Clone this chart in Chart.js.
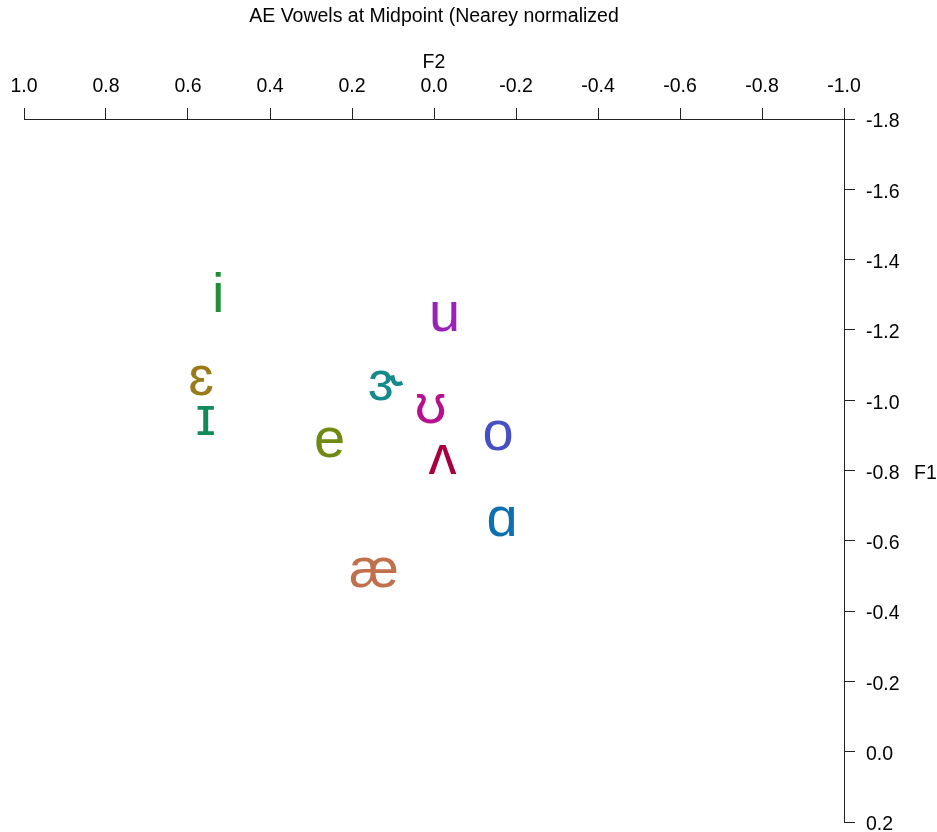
<!DOCTYPE html>
<html>
<head>
<meta charset="utf-8">
<title>AE Vowels at Midpoint</title>
<script src="https://cdn.jsdelivr.net/npm/chart.js@4.4.1/dist/chart.umd.min.js"></script>
<style>
  html, body { margin: 0; padding: 0; background: #fff; }
  #wrap { width: 937px; height: 832px; }
</style>
</head>
<body>
<div id="wrap"><canvas id="chart" width="937" height="832"></canvas></div>
<script>
// Vowel symbols and their Nearey-normalized formant means at midpoint
const vowels = ['i', 'ɛ', 'ɪ', 'e', 'ɝ', 'ʊ', 'ʌ', 'u', 'o', 'ɑ', 'æ'];
const f2Values = [0.534, 0.570, 0.559, 0.260, 0.118, 0.013, -0.021, -0.018, -0.151, -0.160, 0.150];
const f1Values = [-1.308, -1.055, -0.942, -0.880, -1.043, -0.974, -0.831, -1.238, -0.900, -0.655, -0.510];
const vowelColors = ['#1f8f35', '#9b7a1a', '#128a5a', '#6e8a12', '#158a8a', '#b5108e',
                     '#a8003e', '#9a22bb', '#4650c4', '#0f70b0', '#c0714c'];

// Axis extents and tick spacing
const f2Range = [-1.0, 1.0];
const f1Range = [-1.8, 0.2];
const tickStep = 0.2;

const chartTitle = 'AE Vowels at Midpoint (Nearey normalized';
const xTitle = 'F2';
const yTitle = 'F1';

const FONT = '"Liberation Sans", Arial, "DejaVu Sans", sans-serif';
const TEXT_SIZE = 19.5;
const GLYPH_SIZE = 56;

const fmt = v => (Math.abs(v) < 1e-9 ? 0 : v).toFixed(1);

// Draws each vowel symbol centred (by its ink box) on its data point
const vowelLabels = {
  id: 'vowelLabels',
  afterDatasetsDraw(chart) {
    const ctx = chart.ctx;
    const meta = chart.getDatasetMeta(0);
    ctx.save();
    ctx.font = GLYPH_SIZE + 'px ' + FONT;
    ctx.textAlign = 'left';
    ctx.textBaseline = 'alphabetic';
    meta.data.forEach((pt, i) => {
      const m = ctx.measureText(vowels[i]);
      const w = m.actualBoundingBoxRight - m.actualBoundingBoxLeft;
      const h = m.actualBoundingBoxAscent + m.actualBoundingBoxDescent;
      const dx = pt.x - m.actualBoundingBoxRight + w / 2;
      const dy = pt.y + m.actualBoundingBoxAscent - h / 2;
      ctx.fillStyle = vowelColors[i];
      ctx.fillText(vowels[i], dx, dy);
    });
    ctx.restore();
  }
};

// Plot title and the two axis titles
const titles = {
  id: 'titles',
  afterDraw(chart) {
    const ctx = chart.ctx;
    const area = chart.chartArea;
    const yScale = chart.scales.y;
    const midX = (area.left + area.right) / 2;
    ctx.save();
    ctx.fillStyle = '#000';
    ctx.font = TEXT_SIZE + 'px ' + FONT;
    ctx.textBaseline = 'alphabetic';
    ctx.textAlign = 'center';
    ctx.fillText(chartTitle, midX, 22);
    ctx.fillText(xTitle, midX, 68);
    ctx.textAlign = 'left';
    ctx.textBaseline = 'middle';
    const midY = yScale.getPixelForValue((f1Range[0] + f1Range[1]) / 2) + 3;
    ctx.fillText(yTitle, 914, midY);
    ctx.restore();
  }
};

const points = vowels.map((v, i) => ({ x: f2Values[i], y: f1Values[i] }));

new Chart(document.getElementById('chart'), {
  type: 'scatter',
  data: {
    datasets: [{
      label: 'vowels',
      data: points,
      pointRadius: 0,
      pointHoverRadius: 0
    }]
  },
  options: {
    responsive: false,
    animation: false,
    devicePixelRatio: 1,
    layout: { padding: { left: 24, right: 0, top: 0, bottom: 10 } },
    plugins: {
      legend: { display: false },
      title: { display: false },
      tooltip: { enabled: false }
    },
    scales: {
      x: {
        type: 'linear',
        position: 'top',
        reverse: true,
        min: f2Range[0],
        max: f2Range[1],
        grid: { drawOnChartArea: false, drawTicks: true, tickLength: 11, color: '#222', lineWidth: 1 },
        border: { display: true, color: '#222', width: 1 },
        ticks: {
          stepSize: tickStep,
          padding: 10,
          color: '#000',
          font: { family: FONT, size: TEXT_SIZE },
          maxRotation: 0,
          autoSkip: false,
          callback: v => fmt(v)
        },
        afterFit(scale) {
          scale.height = 119;
          scale.paddingLeft = 0;
          scale.paddingRight = 0;
        }
      },
      y: {
        type: 'linear',
        position: 'right',
        reverse: true,
        min: f1Range[0],
        max: f1Range[1],
        grid: { drawOnChartArea: false, drawTicks: true, tickLength: 11, color: '#222', lineWidth: 1 },
        border: { display: true, color: '#222', width: 1 },
        ticks: {
          stepSize: tickStep,
          padding: 11,
          labelOffset: 3,
          color: '#000',
          font: { family: FONT, size: TEXT_SIZE },
          autoSkip: false,
          callback: v => fmt(v)
        },
        afterFit(scale) {
          scale.width = 93;
          scale.paddingTop = 0;
          scale.paddingBottom = 0;
        }
      }
    }
  },
  plugins: [vowelLabels, titles]
});
</script>
</body>
</html>
